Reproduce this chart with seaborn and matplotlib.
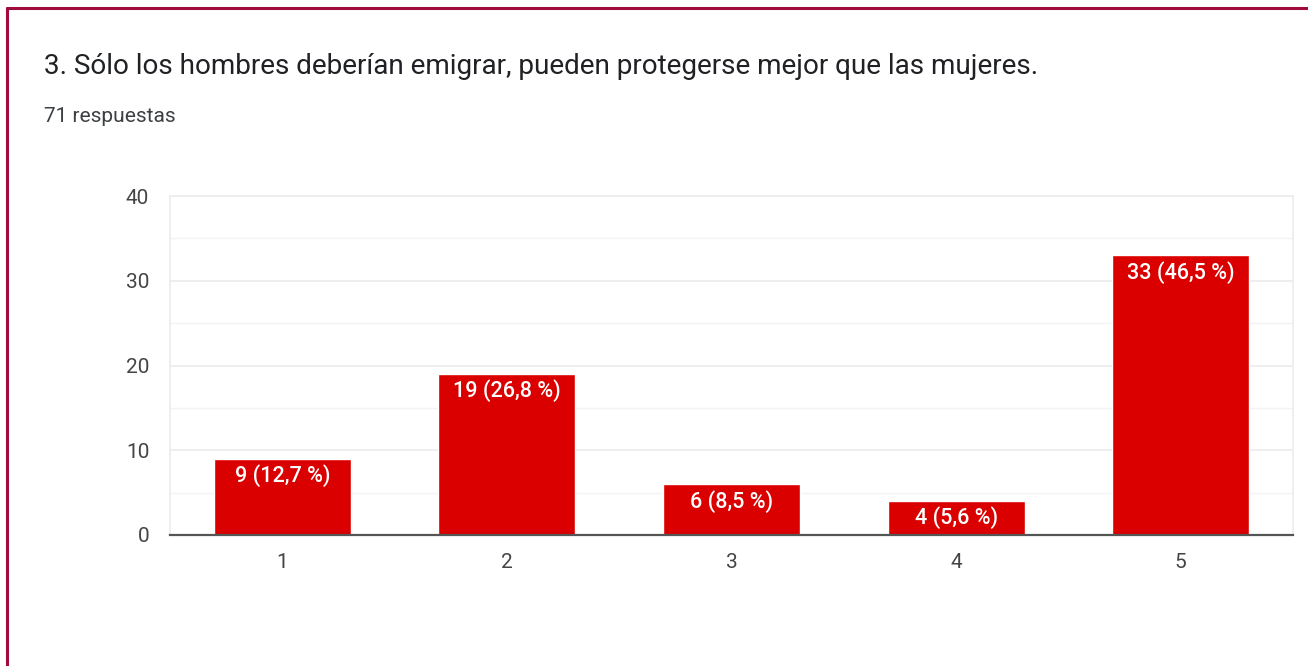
import matplotlib
matplotlib.use("Agg")
import matplotlib.pyplot as plt
from matplotlib.lines import Line2D
from matplotlib.ticker import MultipleLocator
import seaborn as sns
import pandas as pd

# --- data ---
options = ["1", "2", "3", "4", "5"]
counts = [9, 19, 6, 4, 33]
percents = ["12,7", "26,8", "8,5", "5,6", "46,5"]
title = "3. Sólo los hombres deberían emigrar, pueden protegerse mejor que las mujeres."
subtitle = "71 respuestas"

df = pd.DataFrame({"option": options, "count": counts})

sns.set_theme(style="white")
plt.rcParams["font.family"] = ["Roboto", "DejaVu Sans"]

fig = plt.figure(figsize=(13.08, 6.66), dpi=100)
ax = fig.add_axes([0.13, 0.1967, 0.8585, 0.509])

sns.barplot(data=df, x="option", y="count", color="#db0000", width=0.61,
            saturation=1, ax=ax)

# value labels inside the bars
for i, (c, p) in enumerate(zip(counts, percents)):
    ax.annotate(f"{c} ({p} %)", xy=(i, c), xytext=(0, -4),
                textcoords="offset points", ha="center", va="top",
                color="white", fontsize=15.5, fontweight="medium")

ax.set_xlim(-0.5, 4.5)
ax.set_ylim(0, 40)
ax.yaxis.set_major_locator(MultipleLocator(10))
ax.yaxis.set_minor_locator(MultipleLocator(5))
ax.grid(axis="y", which="major", color="#ebebeb", linewidth=1.2)
ax.grid(axis="y", which="minor", color="#f3f3f3", linewidth=1.0)
ax.set_axisbelow(True)

for side in ["left", "top", "right"]:
    ax.spines[side].set_color("#ececec")
    ax.spines[side].set_linewidth(1.2)
ax.spines["bottom"].set_color("#555555")
ax.spines["bottom"].set_linewidth(1.6)

ax.set_xlabel("")
ax.set_ylabel("")
ax.tick_params(axis="both", length=0, labelsize=15, colors="#444444")
ax.tick_params(axis="y", pad=15)
ax.tick_params(axis="x", pad=13)

fig.text(44 / 1308, 1 - 66 / 666, title, fontsize=20.1, color="#202124",
         va="center", ha="left")
fig.text(44 / 1308, 1 - 116 / 666, subtitle, fontsize=15, color="#3c4043",
         va="center", ha="left")

# maroon frame on left and top edges
fig.add_artist(Line2D([6.5 / 1308, 6.5 / 1308], [0, 1 - 8 / 666],
                      color="#9e0b3c", linewidth=2.2))
fig.add_artist(Line2D([6.5 / 1308, 1], [1 - 8 / 666, 1 - 8 / 666],
                      color="#9e0b3c", linewidth=2.2))

fig.savefig("out.png", dpi=100)
